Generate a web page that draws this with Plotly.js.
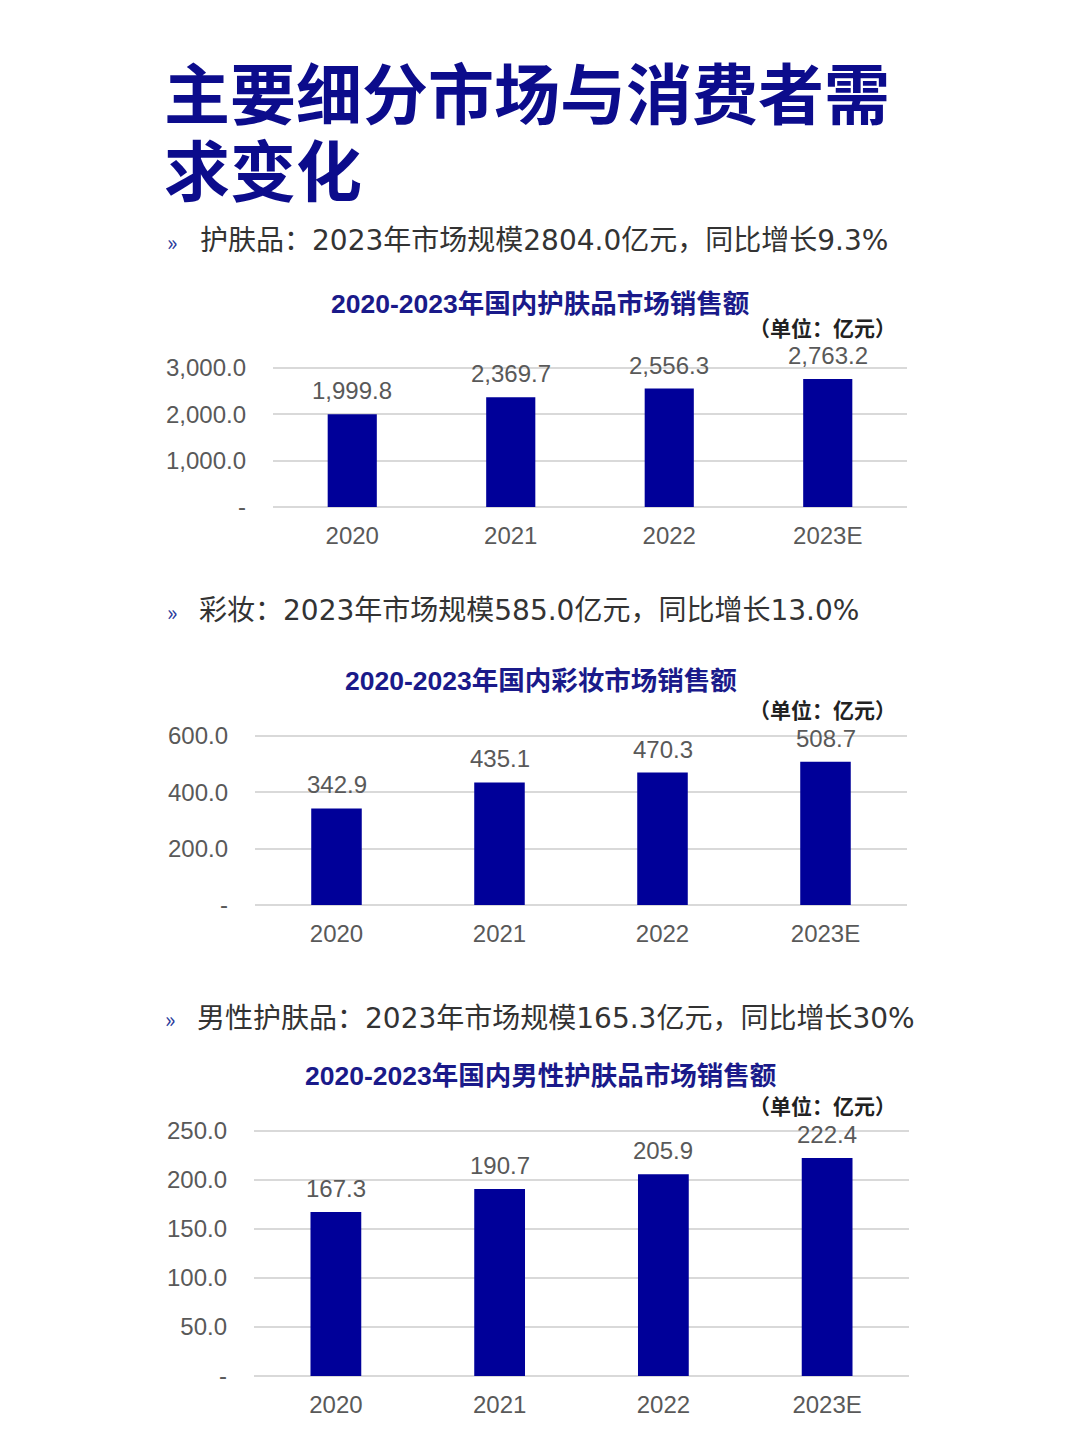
<!DOCTYPE html>
<html>
<head>
<meta charset="utf-8">
<script src="https://cdn.plot.ly/plotly-3.0.1.min.js"></script>
<style>html,body{margin:0;padding:0;background:#fff;}#chart{width:1080px;height:1440px;}</style>
</head>
<body>
<div id="chart"></div>
<script>
// ---- data ----
const years = ['2020', '2021', '2022', '2023E'];
const skincare = [1999.8, 2369.7, 2556.3, 2763.2];
const makeup = [342.9, 435.1, 470.3, 508.7];
const menSkincare = [167.3, 190.7, 205.9, 222.4];

const skincareTickVals = [0, 1000, 2000, 3000];
const skincareTickText = ['-', '1,000.0', '2,000.0', '3,000.0'];
const makeupTickVals = [0, 200, 400, 600];
const makeupTickText = ['-', '200.0', '400.0', '600.0'];
const menTickVals = [0, 50, 100, 150, 200, 250];
const menTickText = ['-', '50.0', '100.0', '150.0', '200.0', '250.0'];

const mainTitleLines = ['主要细分市场与消费者需', '求变化'];
const headings = [
  '护肤品：2023年市场规模2804.0亿元，同比增长9.3%',
  '彩妆：2023年市场规模585.0亿元，同比增长13.0%',
  '男性护肤品：2023年市场规模165.3亿元，同比增长30%'
];
const chartTitles = [
  '2020-2023年国内护肤品市场销售额',
  '2020-2023年国内彩妆市场销售额',
  '2020-2023年国内男性护肤品市场销售额'
];
const unitLabel = '（单位：亿元）';

// ---- styling ----
const NAVY = '#0c0c8c';
const BAR = '#000099';
const TICK = '#595959';
const GRID = '#d9d9d9';
const NUMFONT = '"Liberation Sans", Arial, sans-serif';
const CJK = '"Noto Sans CJK SC", "Noto Sans", sans-serif';
const HEADFONT = '"DejaVu Sans", "Noto Sans CJK SC", sans-serif';
const px2y = p => 1 - p / 1440;
const px2x = p => p / 1080;
const PAD = 0.012; // small headroom so the top gridline is drawn

const series = [
  {vals: skincare, fmt: v => v.toLocaleString('en-US', {minimumFractionDigits: 1, maximumFractionDigits: 1}),
   tv: skincareTickVals, tt: skincareTickText, top: 3000,
   xd: [273, 907], yd: [507, 368]},
  {vals: makeup, fmt: v => v.toFixed(1), tv: makeupTickVals, tt: makeupTickText, top: 600,
   xd: [255, 907], yd: [905, 736]},
  {vals: menSkincare, fmt: v => v.toFixed(1), tv: menTickVals, tt: menTickText, top: 250,
   xd: [254, 909], yd: [1376, 1131]}
];

const traces = [];
const annotations = [];
const layout = {
  width: 1080, height: 1440,
  margin: {l: 0, r: 0, t: 0, b: 0},
  paper_bgcolor: '#ffffff', plot_bgcolor: '#ffffff',
  showlegend: false,
  font: {family: CJK},
  bargap: 0.69
};

series.forEach((s, i) => {
  const n = i === 0 ? '' : String(i + 1);
  const hPx = s.yd[0] - s.yd[1];
  const topPx = s.yd[1] - hPx * PAD;
  traces.push({
    type: 'bar', x: years, y: s.vals,
    xaxis: 'x' + n, yaxis: 'y' + n,
    marker: {color: BAR}, hoverinfo: 'skip'
  });
  layout['xaxis' + n] = {
    domain: [px2x(s.xd[0]), px2x(s.xd[1])],
    anchor: 'y' + n, type: 'category', range: [-0.5, years.length - 0.5],
    showgrid: false, zeroline: false, showline: false, ticks: '',
    tickfont: {family: NUMFONT, size: 24, color: TICK},
    ticklabelstandoff: 12, fixedrange: true
  };
  layout['yaxis' + n] = {
    domain: [px2y(s.yd[0]), px2y(topPx)],
    anchor: 'x' + n, range: [0, s.top * (1 + PAD)],
    tickmode: 'array', tickvals: s.tv, ticktext: s.tt,
    showgrid: true, gridcolor: GRID, gridwidth: 2,
    zeroline: true, zerolinecolor: GRID, zerolinewidth: 2,
    showline: false, ticks: '',
    tickfont: {family: NUMFONT, size: 24, color: TICK},
    ticklabelstandoff: 26, fixedrange: true
  };
  // data labels (category index on the x axis, value on the y axis)
  s.vals.forEach((v, j) => {
    annotations.push({
      x: j, y: v, xref: 'x' + n, yref: 'y' + n,
      text: s.fmt(v), showarrow: false, yanchor: 'bottom', yshift: 8,
      font: {family: NUMFONT, size: 24, color: TICK}
    });
  });
});

// main title
const titleY = [90, 167];
mainTitleLines.forEach((t, i) => {
  annotations.push({
    xref: 'paper', yref: 'paper', x: px2x(162), y: px2y(titleY[i]),
    xanchor: 'left', yanchor: 'middle', showarrow: false,
    text: '<b>' + t + '</b>',
    font: {family: CJK, size: 66, color: NAVY}
  });
});

// section headings
const headY = [241, 611, 1018];
const headX = [[165, 198], [165, 197], [163, 195]];
headings.forEach((t, i) => {
  annotations.push({
    xref: 'paper', yref: 'paper', x: px2x(headX[i][0]), y: px2y(headY[i]),
    xanchor: 'left', yanchor: 'middle', showarrow: false,
    text: '»', font: {family: CJK, size: 22, color: '#2a3a9a'}
  });
  annotations.push({
    xref: 'paper', yref: 'paper', x: px2x(headX[i][1]), y: px2y(headY[i]),
    xanchor: 'left', yanchor: 'middle', showarrow: false,
    text: t, font: {family: HEADFONT, size: 28, color: '#333333'}
  });
});

// chart titles and units
const ctY = [304, 681, 1076];
const ctX = [540, 541, 541];
const unitY = [327, 709, 1105];
chartTitles.forEach((t, i) => {
  annotations.push({
    xref: 'paper', yref: 'paper', x: px2x(ctX[i]), y: px2y(ctY[i]),
    xanchor: 'center', yanchor: 'middle', showarrow: false,
    text: '<b>' + t + '</b>',
    font: {family: '"Liberation Sans", "Noto Sans CJK SC", sans-serif', size: 26.5, color: '#1a1a8a'}
  });
  annotations.push({
    xref: 'paper', yref: 'paper', x: px2x(898), y: px2y(unitY[i]),
    xanchor: 'right', yanchor: 'middle', showarrow: false,
    text: '<b>' + unitLabel + '</b>',
    font: {family: CJK, size: 21, color: '#222222'}
  });
});

layout.annotations = annotations;

Plotly.newPlot('chart', traces, layout, {displayModeBar: false, staticPlot: true});
</script>
</body>
</html>
